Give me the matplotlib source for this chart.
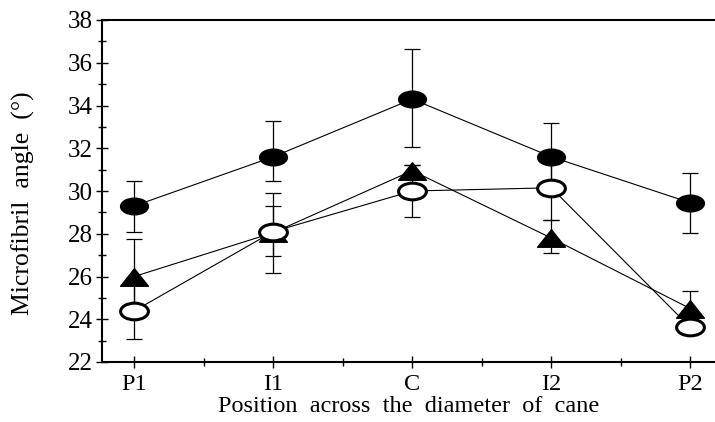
import matplotlib
matplotlib.use("Agg")
import matplotlib.pyplot as plt
from matplotlib.path import Path
from matplotlib.transforms import Affine2D
from matplotlib.ticker import MultipleLocator

plt.rcParams['font.family'] = ['Liberation Serif', 'DejaVu Serif']

positions = ["P1", "I1", "C", "I2", "P2"]

# filled ellipses
filled = [29.3, 31.6, 34.3, 31.6, 29.45]
filled_lo = [1.22, 1.15, 2.26, 1.6, 1.4]
filled_hi = [1.17, 1.69, 2.34, 1.6, 1.41]

# filled triangles
tri = [26.0, 28.05, 30.95, 27.8, 24.5]
tri_lo = [1.75, 1.9, 0.25, 0.7, 0.8]
tri_hi = [1.75, 1.85, 0.25, 0.84, 0.82]

# open ellipses
opn = [24.39, 28.1, 30.0, 30.15, 23.62]
opn_lo = [1.3, 1.15, 1.23, 1.5, 0.35]
opn_hi = [1.3, 1.2, 1.23, 1.5, 0.35]

x = list(range(len(positions)))

ellipse = Path.unit_circle().transformed(Affine2D().scale(1.0, 0.6))
triangle = Path([(0, 0.63), (-1, -0.63), (1, -0.63), (0, 0.63)],
                [Path.MOVETO, Path.LINETO, Path.LINETO, Path.CLOSEPOLY])

fig = plt.figure(figsize=(7.15, 4.22), dpi=100)
ax = fig.add_axes([102 / 715, 1 - 362 / 422, 1 - 102 / 715, (362 - 20) / 422])

for vals, lo, hi in [(filled, filled_lo, filled_hi), (tri, tri_lo, tri_hi), (opn, opn_lo, opn_hi)]:
    ax.errorbar(x, vals, yerr=[lo, hi], fmt='none', ecolor='black', elinewidth=0.9,
                capsize=6, capthick=0.9, zorder=2)

ax.plot(x, filled, color='black', lw=0.8, marker=ellipse, ms=20,
        mfc='black', mec='black', zorder=3)
ax.plot(x, tri, color='black', lw=0.8, marker=triangle, ms=20,
        mfc='black', mec='black', zorder=4)
ax.plot(x, opn, color='black', lw=0.8, marker=ellipse, ms=20,
        mfc='white', mec='black', mew=2.2, zorder=5)

ax.set_xlim(-0.232, 4.178)
ax.set_ylim(22, 38)
ax.set_xticks(x)
ax.set_xticklabels(positions)
ax.xaxis.set_minor_locator(MultipleLocator(0.5))
ax.yaxis.set_major_locator(MultipleLocator(2))
ax.yaxis.set_minor_locator(MultipleLocator(1))

ax.spines['right'].set_visible(False)
for s in ['top', 'bottom', 'left']:
    ax.spines[s].set_linewidth(1.5)

ax.tick_params(axis='both', which='major', direction='inout', length=9, width=1,
               labelsize=18, colors='black')
ax.tick_params(axis='both', which='minor', direction='inout', length=6, width=1)
ax.tick_params(axis='x', which='major', labelsize=17.5, pad=4)
ax.tick_params(axis='y', which='major', pad=2)

ax.set_xlabel("Position  across  the  diameter  of  cane", fontsize=17.5, labelpad=1)
ax.set_ylabel("Microfibril  angle  (°)", fontsize=18.5)
ax.yaxis.set_label_coords(-0.109, 0.465)

fig.savefig("out.png", dpi=100)
